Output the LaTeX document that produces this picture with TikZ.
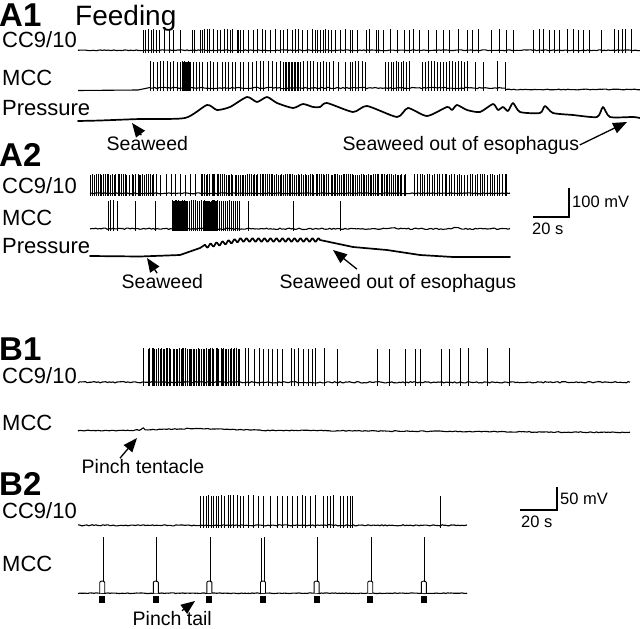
\documentclass[tikz,border=0pt]{standalone}
\usepackage{fontspec}
\setmainfont{Liberation Sans}
\usetikzlibrary{arrows.meta}

\tikzset{
	panel/.style={font=\fontsize{33}{33}\selectfont\bfseries,anchor=base west,inner sep=0pt},
	title/.style={font=\fontsize{28}{28}\selectfont,anchor=base west,inner sep=0pt},
	chan/.style={font=\fontsize{22}{22}\selectfont,anchor=base west,inner sep=0pt},
	note/.style={font=\fontsize{19.5}{19.5}\selectfont,anchor=base west,inner sep=0.5pt},
	scl/.style={font=\fontsize{16.5}{16.5}\selectfont,anchor=base west,inner sep=0pt},
	trace/.style={line width=1.1pt,line join=round},
	press/.style={line width=1.7pt,line join=round,line cap=round},
	spike/.style={line width=0.55pt},
	pointer/.style={line width=1.3pt,-{Triangle[length=14pt,width=11pt]}},
	bar/.style={line width=1.6pt},
}

\begin{document}
\begin{tikzpicture}[x=1pt,y=-1pt]
	\useasboundingbox (0,0) rectangle (640,629);
	\pgfmathsetseed{11}

	\node[panel] (A1) at (-1,26) {A1};
	\node[title] (feeding) at (75,25) {Feeding};
	\node[chan] (a1cc) at (2,47.5) {CC9/10};
	\node[chan] (a1mcc) at (2,85) {MCC};
	\node[chan] (a1pr) at (2,115) {Pressure};
	\draw[trace] plot[domain=78:640,samples=300] (\x,{50.3+0.45*rand});
	\foreach \x in {143,145,148,151,153,156,159,164,169,173,180,192,194,200,202,204,207,209,213,217,220,224,227,230,232,237,238,240,243,248,253,257,262,265,270,275,280,283,287,292,295,298,302,307,312,315,317,320,323,325,328,331,335,340,345,350,352,357,366,369,376,378,383,390,397,404,409,413,419,428,436,443,449,458,467,472,478,491,499,506,513,533,539,543,549,554,559,567,573,578,583,589,601,614,618,622,625,631}
		\draw[spike] (\x,52.5) -- (\x,{29+1.5*rnd});
	\draw[trace] (78,90.5) -- (138,90) -- (150,87.5) -- plot[domain=151:505,samples=180] (\x,{88+0.7*rand}) -- (506,89.5) -- plot[domain=507:640,samples=60] (\x,{89.5+0.4*rand});
	\foreach \x in {150,153,157,160,163,167,170,173,177,180,182,183,...,190,193,196,199,202,207,210,213,217,222,225,228,232,235,240,243,248,252,256,260,263,268,272,276,280,283,285,286.5,...,300,303,307,310,313,317,320,323,326,329,333,338,345,350,352,355,358,362,365,385,388,391,393,396,398,401,403,406,409,422,425,428,431,434,437,440,443,446,449,452,455,458,461,464,467,475,483,497,505}
		\draw[spike] (\x,91) -- (\x,{61+1.5*rnd});
	\draw[press] plot[smooth,tension=0.4] coordinates {(78,121) (100,120.5) (140,119) (185,118) (207,105) (217,110) (230,107) (247,97) (257,102) (267,97) (277,103) (293,108) (303,104) (313,107) (320,107) (327,103) (353,112) (367,106) (397,117) (408,108) (427,116) (447,107) (452,110) (457,105) (467,110) (480,112) (493,104) (498,110) (503,107) (508,111) (513,103) (520,112) (540,113) (545,106) (553,113) (573,115) (597,117) (603,107) (610,117) (633,117) (640,118)};
	\coordinate (a1in) at (132,123);
	\coordinate (a1out) at (627,122);
	\node[note] (a1sw) at (106,150) {Seaweed};
	\node[note] (a1so) at (342,150) {Seaweed out of esophagus};
	\draw[pointer] (a1sw) -- (a1in);
	\draw[pointer] (a1so.east) -- (a1out);

	\node[panel] (A2) at (-1,166) {A2};
	\node[chan] (a2cc) at (2,193) {CC9/10};
	\node[chan] (a2mcc) at (2,225) {MCC};
	\node[chan] (a2pr) at (2,253) {Pressure};
	\draw[trace] plot[domain=90:510,samples=220] (\x,{193.3+0.5*rand});
	\foreach \x [evaluate=\x as \xx using \x+1.2*rnd] in {90,91.8,...,156,160,165,...,195,200,201.8,...,406,414,416.5,...,508}
		\draw[spike] (\xx,195.5) -- (\xx,{173.5+1.5*rnd});
	\draw[trace] plot[domain=90:510,samples=220] (\x,{228.8+0.7*rand-1.5*max(0,1-abs(\x-393)/6)-1.2*max(0,1-abs(\x-455)/6)});
	\foreach \x in {108,110,113,117,135,155,172,173,...,187,189,191,...,201,203,204,...,217,219,221,...,240,248,293,340}
		\draw[spike] (\x,231) -- (\x,{200+1.5*rnd});
	\draw[press] (90,256) -- (140,256.5) -- (180,255) -- (200,248) -- plot[domain=205:320,samples=116] (\x,{240+max(0,240-\x)*0.18+1.8*sin(60*(\x-200))}) -- (353,247) -- (387,250) -- (420,255) -- (453,257) -- (510,257);
	\coordinate (a2in) at (147,258);
	\coordinate (a2out) at (333,250);
	\node[note] (a2sw) at (121,288) {Seaweed};
	\node[note] (a2so) at (279,288) {Seaweed out of esophagus};
	\draw[pointer] (a2sw) -- (a2in);
	\draw[pointer] ([xshift=78pt,yshift=4pt]a2so.north west) -- (a2out);

	\coordinate (sa0) at (533,217);
	\coordinate (sa1) at (569,217);
	\coordinate (sa2) at (569,188);
	\draw[bar] (sa0) -- (sa1) -- (sa2);
	\node[scl] (samv) at (572,207) {100 mV};
	\node[scl] (sas) at (532,234) {20 s};

	\node[panel] (B1) at (-1,360.5) {B1};
	\node[chan] (b1cc) at (2,383) {CC9/10};
	\node[chan] (b1mcc) at (2,430) {MCC};
	\draw[trace] plot[domain=78:630,samples=300] (\x,{382.3+0.7*rand});
	\foreach \x [evaluate=\x as \xx using \x+1*rnd] in {143,148,149.6,...,240,245,248,253,258,263,268,272,277,282,290,293,298,303,308,312,315,324,337,377,389,404,415,420,441,449,460,468,487,509}
		\draw[spike] (\xx,386) -- (\xx,{348+1.5*rnd});
	\draw[trace] plot[domain=78:630,samples=280] (\x,{430.5-2.2*max(0,1-abs(\x-195)/70)+(\x-300)*0.006*(\x>300)-2.5*max(0,1-abs(\x-143)/2.5)+0.45*rand});
	\coordinate (b1in) at (137,438);
	\node[note] (b1pt) at (81,473) {Pinch tentacle};
	\draw[pointer] ([xshift=39pt]b1pt.north west) -- (b1in);

	\node[panel] (B2) at (-1,495) {B2};
	\node[chan] (b2cc) at (2,518) {CC9/10};
	\node[chan] (b2mcc) at (2,571) {MCC};
	\draw[trace] plot[domain=78:467,samples=220] (\x,{525.3+0.6*rand});
	\foreach \x [evaluate=\x as \xx using \x+0.8*rnd] in {200,203,206,208,211,213,216,218,221,224,227,230,233,237,240,243,248,253,258,263,270,277,282,287,292,297,302,305,310,315,323,327,330,333,340,343,347,350,352,440}
		\draw[spike] (\xx,528) -- (\xx,{495+1.5*rnd});
	\draw[trace] plot[domain=78:467,samples=220] (\x,{593.2+0.35*rand});
	\foreach \e in {102.2,155.8,209.4,263,316.6,370.2,423.8} {
		\draw[spike,line width=0.9pt,fill=white] ({\e-2.5},593) -- ({\e-2.5},582.5) to[out=90,in=90] ({\e+2.5},582.5) -- ({\e+2.5},593);
		\draw[spike,line width=0.8pt] ({\e+1},582) -- ({\e+1},537);
		\fill ({\e-3},595.5) rectangle ({\e+3},603);
	}
	\draw[spike,line width=0.8pt] (210.8,582) -- (210.8,538);
	\draw[spike,line width=0.8pt] (261.8,582) -- (261.8,538);
	\coordinate (b2in) at (195,601);
	\node[note] (b2pt) at (132,625.5) {Pinch tail};
	\draw[pointer] ([xshift=50pt]b2pt.north west) -- (b2in);

	\coordinate (sb0) at (520,510);
	\coordinate (sb1) at (557,510);
	\coordinate (sb2) at (557,487);
	\draw[bar] (sb0) -- (sb1) -- (sb2);
	\node[scl] (sbmv) at (560,504) {50 mV};
	\node[scl] (sbs) at (521,527) {20 s};
\end{tikzpicture}
\end{document}
